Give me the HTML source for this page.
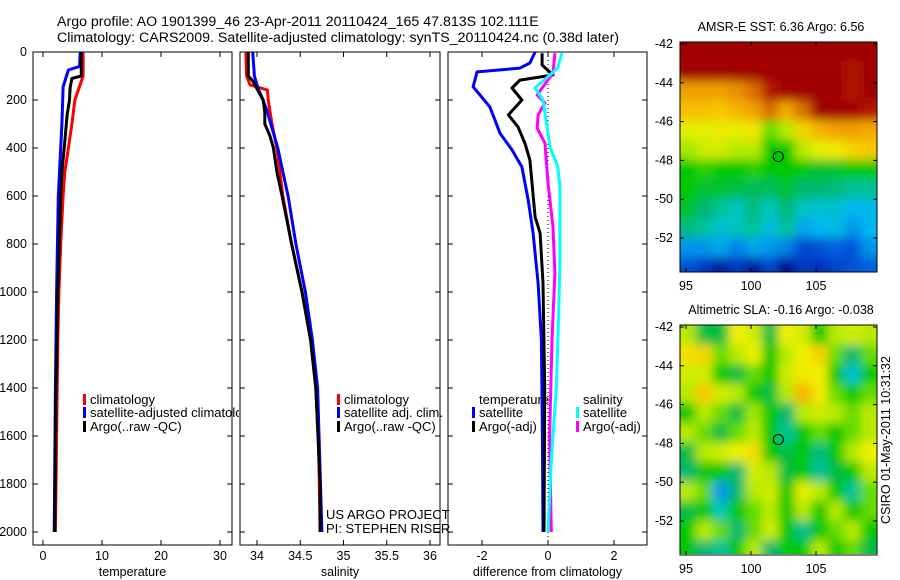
<!DOCTYPE html>
<html><head><meta charset="utf-8"><style>
html,body{margin:0;padding:0;background:#fff;}
svg{display:block;font-family:"Liberation Sans",sans-serif;}
</style></head><body>
<svg id="fig" width="900" height="580" viewBox="0 0 900 580" xmlns="http://www.w3.org/2000/svg">
<defs>
<filter id="blur" x="-5%" y="-5%" width="110%" height="110%"><feGaussianBlur stdDeviation="5"/></filter>
<clipPath id="clipSST"><rect x="680" y="42" width="197" height="230"/></clipPath>
<clipPath id="clipSLA"><rect x="680" y="325" width="197" height="229"/></clipPath>
<clipPath id="clipLeg1"><rect x="0" y="0" width="239" height="580"/></clipPath>
</defs>
<text x="57" y="26" font-size="14.2">Argo profile: AO 1901399_46 23-Apr-2011 20110424_165 47.813S 102.111E</text>
<text x="57" y="42" font-size="14.2">Climatology: CARS2009. Satellite-adjusted climatology: synTS_20110424.nc (0.38d later)</text>
<g id="plots"></g>
</svg>
<script>
// ---- profile data ----
const tDepthClim=[0,100,200,300,400,500,600,800,1000,1200,1400,1600,1800,2000];
const tClim=[6.8,6.8,5.4,4.9,4.3,3.7,3.4,3.0,2.7,2.5,2.4,2.3,2.2,2.1];
const tDepthSat=[0,60,75,145,300,400,600,1000,1400,2000];
const tSat=[6.3,6.2,4.3,3.4,3.2,3.0,2.6,2.3,2.1,1.9];
const tDepthArgo=[0,100,110,150,200,260,400,500,600,1000,1400,2000];
const tArgo=[6.5,6.5,4.9,4.6,4.5,4.1,3.6,3.2,3.0,2.5,2.2,2.0];
const sDepthClim=[0,100,137,158,200,292,403,600,800,1000,1200,1400,1600,1800,2000];
const sClim=[33.87,33.88,33.92,34.12,34.13,34.17,34.23,34.30,34.40,34.52,34.62,34.68,34.71,34.72,34.73];
const sDepthSat=[0,100,150,200,250,300,400,500,600,800,1000,1200,1400,2000];
const sSat=[33.95,33.97,34.01,34.07,34.12,34.16,34.24,34.30,34.36,34.45,34.56,34.64,34.70,34.75];
const sDepthArgo=[0,100,120,200,250,300,350,400,500,600,800,1000,1200,1400,1800,2000];
const sArgo=[33.90,33.90,33.95,34.07,34.09,34.09,34.15,34.19,34.23,34.29,34.40,34.52,34.62,34.68,34.73,34.73];
const dDepthTS=[0,46,67,83,145,179,229,339,408,479,617,755,963,1200,1600,2000];
const dTSat=[-0.39,-0.55,-0.85,-2.15,-2.27,-2.06,-1.76,-1.45,-1.09,-0.79,-0.6,-0.45,-0.3,-0.2,-0.17,-0.15];
const dDepthTA=[5,54,96,117,150,200,262,312,380,450,687,755,963,1400,2000];
const dTArgo=[-0.18,-0.18,0.15,-0.85,-1.09,-0.79,-1.2,-0.91,-0.7,-0.55,-0.39,-0.24,-0.15,-0.1,-0.12];
const dDepthSA=[5,88,179,213,262,317,380,546,729,921,1200,1600,2000];
const dSArgo=[0.21,0.15,-0.33,-0.09,-0.3,-0.33,-0.09,0,0.15,0.21,0.12,0.05,0.1];
const dDepthSS=[5,63,77,150,200,396,479,562,896,1200,1400,1700,2000];
const dSSat=[0.42,0.3,0.21,-0.39,-0.15,0.06,0.3,0.36,0.36,0.3,0.25,0.1,0.0];
const depthTicks=[0,200,400,600,800,1000,1200,1400,1600,1800,2000];
const tTicks=[0,10,20,30];
const sTicks=[34,34.5,35,35.5,36];
const dTicks=[-2,0,2];
// ---- map data (colour index 0..1), rows top(-42) to bottom(-54) ----
const sstGrid=[
[1,1,1,1,1,1,1,1,1,1,1,1],
[1,1,1,1,1,1,1,1,1,1,0.96,1],
[0.8,0.8,0.8,0.82,0.86,0.95,1,1,1,1,0.95,1],
[0.74,0.74,0.72,0.76,0.8,0.86,0.78,0.86,1,1,1,0.95],
[0.64,0.64,0.66,0.64,0.67,0.55,0.6,0.7,0.76,0.8,0.8,0.78],
[0.58,0.62,0.62,0.6,0.6,0.5,0.5,0.6,0.64,0.66,0.7,0.72],
[0.5,0.52,0.5,0.5,0.52,0.5,0.5,0.5,0.48,0.48,0.5,0.5],
[0.5,0.48,0.48,0.47,0.46,0.46,0.48,0.45,0.45,0.44,0.42,0.42],
[0.48,0.45,0.42,0.38,0.44,0.38,0.45,0.38,0.36,0.36,0.32,0.33],
[0.44,0.42,0.36,0.38,0.42,0.34,0.42,0.3,0.32,0.34,0.28,0.32],
[0.28,0.28,0.3,0.26,0.3,0.28,0.26,0.18,0.2,0.22,0.2,0.28],
[0.2,0.16,0.1,0.16,0.1,0.18,0.06,0.16,0.15,0.18,0.2,0.22]];
const slaGrid=[
[0.6,0.47,0.47,0.65,0.62,0.47,0.65,0.62,0.5,0.6,0.62,0.6],
[0.68,0.7,0.55,0.6,0.65,0.5,0.6,0.65,0.7,0.55,0.45,0.55],
[0.62,0.62,0.5,0.47,0.55,0.5,0.62,0.66,0.65,0.5,0.36,0.5],
[0.6,0.72,0.62,0.6,0.5,0.47,0.6,0.76,0.66,0.55,0.5,0.55],
[0.5,0.6,0.55,0.47,0.58,0.5,0.45,0.6,0.62,0.6,0.55,0.6],
[0.6,0.55,0.47,0.55,0.6,0.5,0.42,0.5,0.55,0.5,0.55,0.6],
[0.47,0.6,0.62,0.65,0.68,0.5,0.47,0.5,0.44,0.5,0.6,0.65],
[0.45,0.5,0.5,0.45,0.62,0.6,0.47,0.5,0.42,0.47,0.5,0.6],
[0.6,0.55,0.28,0.45,0.6,0.62,0.5,0.64,0.6,0.5,0.42,0.55],
[0.47,0.5,0.4,0.5,0.55,0.6,0.5,0.6,0.5,0.6,0.5,0.55],
[0.5,0.6,0.55,0.45,0.55,0.62,0.5,0.43,0.5,0.55,0.6,0.5],
[0.5,0.45,0.42,0.5,0.6,0.45,0.5,0.5,0.6,0.5,0.55,0.47]];
const lonTicks=[95,100,105];
const latTicks=[-42,-44,-46,-48,-50,-52];
const floatLon=[102.1];
const floatLat=[-47.8];

const NS='http://www.w3.org/2000/svg';
const root=document.getElementById('plots');
function mk(tag,attrs,parent){const e=document.createElementNS(NS,tag);for(const k in attrs)e.setAttribute(k,attrs[k]);(parent||root).appendChild(e);return e;}
const yTop=52,yBot=545;
const yD=d=>52+0.24*d;
const xT=v=>43+5.9*v;
const xS=v=>257+86.5*(v-34);
const xDf=v=>548+33*v;

function panel(name,x0,x1,ticks,xf,xlabel,ylabels){
  const g=mk('g',{});
  
  
  const r=mk('rect',{x:x0,y:yTop,width:x1-x0,height:yBot-yTop,fill:'none',stroke:'#000','stroke-width':1},g);
  
  
  depthTicks.forEach(d=>{
    const y=yD(d);
    mk('line',{x1:x0,x2:x0+5,y1:y,y2:y,stroke:'#000'},g);
    mk('line',{x1:x1,x2:x1-5,y1:y,y2:y,stroke:'#000'},g);
    if(ylabels){const t=mk('text',{x:x0-6,y:y+4,'font-size':12.5,'text-anchor':'end'},g);t.textContent=d;
      
      }
  });
  ticks.forEach(v=>{
    const x=xf(v);
    mk('line',{x1:x,x2:x,y1:yBot,y2:yBot-5,stroke:'#000'},g);
    mk('line',{x1:x,x2:x,y1:yTop,y2:yTop+5,stroke:'#000'},g);
    const t=mk('text',{x:x,y:yBot+15,'font-size':12.5,'text-anchor':'middle'},g);t.textContent=v;
    
    
  });
  const lb=mk('text',{x:(x0+x1)/2,y:576,'font-size':12.5,'text-anchor':'middle'},g);lb.textContent=xlabel;
  
  
  return g;
}
function series(name,depths,vals,xf,color){
  const p=depths.map((d,i)=>xf(vals[i]).toFixed(1)+','+yD(d).toFixed(1)).join(' ');
  const l=mk('polyline',{points:p,fill:'none',stroke:color,'stroke-width':3,'stroke-linejoin':'round'});
  
  
}
function legend(x,y,color,label,name,clip){
  if(color){const r=mk('rect',{x:x,y:y-10,width:3,height:11,fill:color});
    
    }
  const t=mk('text',{x:x+7,y:y,'font-size':13});t.textContent=label;
  if(clip)t.setAttribute('clip-path','url(#'+clip+')');
  
  
}
function txt(x,y,s,name,size){const t=mk('text',{x:x,y:y,'font-size':size||13});t.textContent=s;
  
  return t;}

// Panel 1 temperature
panel('temperature-panel',33,232,tTicks,xT,'temperature',true);
series('temperature-climatology-line',tDepthClim,tClim,xT,'#f00');
series('temperature-satellite-line',tDepthSat,tSat,xT,'#00f');
series('temperature-argo-line',tDepthArgo,tArgo,xT,'#000');
legend(83,404,'#f00','climatology','legend-climatology');
legend(83,417,'#00f','satellite-adjusted climatology','legend-satellite-adjusted','clipLeg1');
legend(83,431,'#000','Argo(..raw -QC)','legend-argo');

// Panel 2 salinity
panel('salinity-panel',240,440,sTicks,xS,'salinity',false);
series('salinity-climatology-line',sDepthClim,sClim,xS,'#f00');
series('salinity-satellite-line',sDepthSat,sSat,xS,'#00f');
series('salinity-argo-line',sDepthArgo,sArgo,xS,'#000');
legend(337,404,'#f00','climatology','legend-sal-climatology');
legend(337,417,'#00f','satellite adj. clim.','legend-sal-satellite');
legend(337,431,'#000','Argo(..raw -QC)','legend-sal-argo');
txt(326,519,'US ARGO PROJECT','project-label');
txt(326,533,'PI: STEPHEN RISER','pi-label');

// Panel 3 difference
panel('difference-panel',448,647,dTicks,xDf,'difference from climatology',false);
const zl=mk('line',{x1:xDf(0),x2:xDf(0),y1:yTop,y2:yBot,stroke:'#000','stroke-dasharray':'1,3'});


series('diff-temp-satellite-line',dDepthTS,dTSat,xDf,'#00f');
series('diff-temp-argo-line',dDepthTA,dTArgo,xDf,'#000');
series('diff-sal-argo-line',dDepthSA,dSArgo,xDf,'#f0f');
series('diff-sal-satellite-line',dDepthSS,dSSat,xDf,'#0ff');
legend(472,404,null,'temperature','legend-temperature-header');
legend(576,404,null,'salinity','legend-salinity-header');
legend(472,417,'#00f','satellite','legend-temp-satellite');
legend(472,431,'#000','Argo(-adj)','legend-temp-argo');
legend(576,417,'#0ff','satellite','legend-sal-satellite-diff');
legend(576,431,'#f0f','Argo(-adj)','legend-sal-argo-diff');

// ---- maps ----
const cmapStops=[[0,[0,0,112]],[0.12,[0,32,176]],[0.22,[0,96,224]],[0.32,[0,184,240]],[0.4,[0,200,176]],[0.45,[0,184,112]],[0.5,[0,200,0]],[0.58,[160,232,0]],[0.65,[240,240,0]],[0.72,[248,200,0]],[0.8,[240,160,0]],[0.88,[208,96,0]],[0.95,[176,24,0]],[1,[160,0,0]]];
function cmap(v){
  v=Math.max(0,Math.min(1,v));
  for(let i=1;i<cmapStops.length;i++){
    const a=cmapStops[i-1],b=cmapStops[i];
    if(v<=b[0]){const f=(v-a[0])/(b[0]-a[0]);
      return 'rgb('+a[1].map((c,k)=>Math.round(c+f*(b[1][k]-c))).join(',')+')';}
  }
  return 'rgb(160,0,0)';
}
function map(name,grid,top,title,clip){
  const x0=680,x1=877;
  const xL=lon=>686+13*(lon-95);
  const yL=lat=>top+2+19.4*(-42-lat);
  const g=mk('g',{});
  
  
  const img=mk('g',{'clip-path':'url(#'+clip+')'},g);
  const inner=mk('g',{filter:'url(#blur)'},img);
  const nr=grid.length,nc=grid[0].length;
  const lon0=94.5,lon1=109.7,lat0=-41.9,lat1=-54;
  for(let i=0;i<nr;i++)for(let j=0;j<nc;j++){
    const la=lat0+(lat1-lat0)*i/nr, la2=lat0+(lat1-lat0)*(i+1)/nr;
    const lo=lon0+(lon1-lon0)*j/nc, lo2=lon0+(lon1-lon0)*(j+1)/nc;
    const pad=(i===0||j===0||i===nr-1||j===nc-1)?8:0.5;
    const c=mk('rect',{x:xL(lo)-(j===0?pad:0),y:yL(la)-(i===0?pad:0),width:xL(lo2)-xL(lo)+(j===0||j===nc-1?pad:0.5),height:yL(la2)-yL(la)+(i===0||i===nr-1?pad:0.5),fill:cmap(grid[i][j])},inner);
    
    
  }
  const fr=mk('rect',{x:x0,y:top,width:x1-x0,height:230,fill:'none',stroke:'#000'},g);
  
  
  latTicks.forEach(la=>{const y=yL(la);
    mk('line',{x1:x0,x2:x0+4,y1:y,y2:y,stroke:'#000'},g);
    mk('line',{x1:x1,x2:x1-4,y1:y,y2:y,stroke:'#000'},g);
    const t=mk('text',{x:x0-7,y:y+4,'font-size':12.5,'text-anchor':'end'},g);t.textContent=la;
    
    });
  lonTicks.forEach(lo=>{const x=xL(lo);
    mk('line',{x1:x,x2:x,y1:top+230,y2:top+226,stroke:'#000'},g);
    mk('line',{x1:x,x2:x,y1:top,y2:top+4,stroke:'#000'},g);
    const t=mk('text',{x:x,y:top+248,'font-size':12.5,'text-anchor':'middle'},g);t.textContent=lo;
    
    });
  const c=mk('circle',{cx:xL(floatLon[0]),cy:yL(floatLat[0]),r:5,fill:'none',stroke:'#000'},g);
  
  
  const tt=mk('text',{x:781,y:top-11,'font-size':12.5,'text-anchor':'middle'},g);tt.textContent=title;
  
  
}
map('sst-map',sstGrid,42,'AMSR-E SST: 6.36 Argo: 6.56','clipSST');
map('sla-map',slaGrid,325,'Altimetric SLA: -0.16 Argo: -0.038','clipSLA');
const vt=mk('text',{x:0,y:0,'font-size':12.5,'text-anchor':'middle',transform:'translate(890,440) rotate(-90)'});
vt.textContent='CSIRO 01-May-2011 10:31:32';


</script>
</body></html>
